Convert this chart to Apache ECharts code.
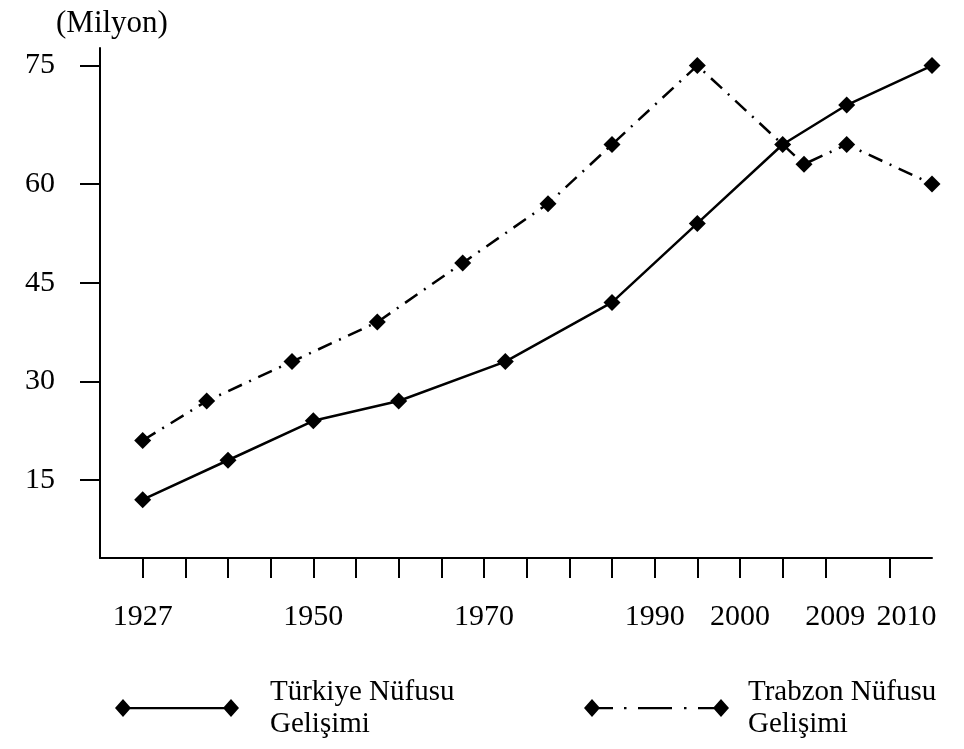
<!DOCTYPE html>
<html>
<head>
<meta charset="utf-8">
<script src="https://cdn.jsdelivr.net/npm/echarts@6/dist/echarts.min.js"></script>
<style>
  html, body { margin: 0; padding: 0; background: #fff; }
  #chart { width: 964px; height: 749px; }
</style>
</head>
<body>
<div id="chart"></div>
<script>
const turkiyeX = [0, 2, 4, 6, 8.5, 11, 13, 15, 16.5, 18.5];
const turkiyeY = [12, 18, 24, 27, 33, 42, 54, 66, 72, 78];
const trabzonX = [0, 1.5, 3.5, 5.5, 7.5, 9.5, 11, 13, 15.5, 16.5, 18.5];
const trabzonY = [21, 27, 33, 39, 48, 57, 66, 78, 63, 66, 60];

// ---- axis ticks / labels ----
const xTickPositions = [0,1,2,3,4,5,6,7,8,9,10,11,12,13,14,15,16,17.5];
const xLabelPositions = [0, 4, 8, 12, 14, 16.23, 17.9];
const xLabels = ['1927', '1950', '1970', '1990', '2000', '2009', '2010'];
const yTickValues = [15, 30, 45, 60, 78];
const yTickLabels = ['15', '30', '45', '60', '75'];

const seriesNames = ['Türkiye Nüfusu\nGelişimi', 'Trabzon Nüfusu\nGelişimi'];

const FONT = '"Liberation Serif", "Times New Roman", serif';
const FS = 30;

function lookup(values, labels, v) {
  for (let i = 0; i < values.length; i++) {
    if (Math.abs(values[i] - v) < 1e-6) return labels[i];
  }
  return '';
}

const iconSolid = 'path://M0 9 L8 0 L16 9 L8 18 Z M8 8 L116 8 L116 10.2 L8 10.2 Z M108 9 L116 0 L124 9 L116 18 Z';
const iconDash = 'path://M0 9 L8 0 L16 9 L8 18 Z M8 8 L29 8 L29 10.2 L8 10.2 Z M40 8 L42.5 8 L42.5 10.2 L40 10.2 Z M54 8 L88 8 L88 10.2 L54 10.2 Z M100 8 L102.5 8 L102.5 10.2 L100 10.2 Z M114 8 L137 8 L137 10.2 L114 10.2 Z M129 9 L137 0 L145 9 L137 18 Z';

const chart = echarts.init(document.getElementById('chart'), null, { renderer: 'canvas' });

const legendText = { color: '#000', fontFamily: FONT, fontSize: 29, lineHeight: 32 };

chart.setOption({
  backgroundColor: '#fff',
  animation: false,
  textStyle: { fontFamily: FONT, color: '#000' },
  title: {
    text: '(Milyon)',
    left: 51, top: 3,
    textStyle: { fontFamily: FONT, fontSize: 31, fontWeight: 'normal', color: '#000' }
  },
  grid: { left: 100, right: 32, top: 48, bottom: 191, containLabel: false },
  xAxis: {
    type: 'value',
    min: -1, max: 18.5,
    splitLine: { show: false },
    axisLine: { show: true, onZero: false, lineStyle: { color: '#000', width: 2 } },
    axisTick: { show: true, customValues: xTickPositions, length: 20, lineStyle: { color: '#000', width: 2 } },
    axisLabel: {
      customValues: xLabelPositions,
      margin: 44,
      color: '#000', fontFamily: FONT, fontSize: FS,
      formatter: v => lookup(xLabelPositions, xLabels, v)
    }
  },
  yAxis: {
    type: 'value',
    min: 3.14, max: 80.67,
    splitLine: { show: false },
    axisLine: { show: true, onZero: false, lineStyle: { color: '#000', width: 2 } },
    axisTick: { show: true, customValues: yTickValues, length: 20, lineStyle: { color: '#000', width: 2 } },
    axisLabel: {
      customValues: yTickValues,
      margin: 45,
      color: '#000', fontFamily: FONT, fontSize: FS,
      formatter: v => lookup(yTickValues, yTickLabels, v)
    }
  },
  legend: [
    {
      data: [{ name: seriesNames[0], icon: iconSolid }],
      left: 110, top: 671,
      itemWidth: 124, itemHeight: 18,
      itemStyle: { color: '#000', borderWidth: 0 },
      lineStyle: { width: 0 },
      textStyle: Object.assign({ padding: [0, 0, 0, 26] }, legendText),
      selectedMode: false
    },
    {
      data: [{ name: seriesNames[1], icon: iconDash }],
      left: 579, top: 671,
      itemWidth: 145, itemHeight: 18,
      itemStyle: { color: '#000', borderWidth: 0 },
      lineStyle: { width: 0 },
      textStyle: Object.assign({ padding: [0, 0, 0, 14] }, legendText),
      selectedMode: false
    }
  ],
  series: [
    {
      name: seriesNames[0],
      type: 'line',
      data: turkiyeX.map((x, i) => [x, turkiyeY[i]]),
      symbol: 'diamond', symbolSize: 17,
      itemStyle: { color: '#000' },
      lineStyle: { color: '#000', width: 2.5, type: 'solid' }
    },
    {
      name: seriesNames[1],
      type: 'line',
      data: trabzonX.map((x, i) => [x, trabzonY[i]]),
      symbol: 'diamond', symbolSize: 17,
      itemStyle: { color: '#000' },
      lineStyle: { color: '#000', width: 2.5, type: [15, 8, 2, 8] }
    }
  ]
});
</script>
</body>
</html>
